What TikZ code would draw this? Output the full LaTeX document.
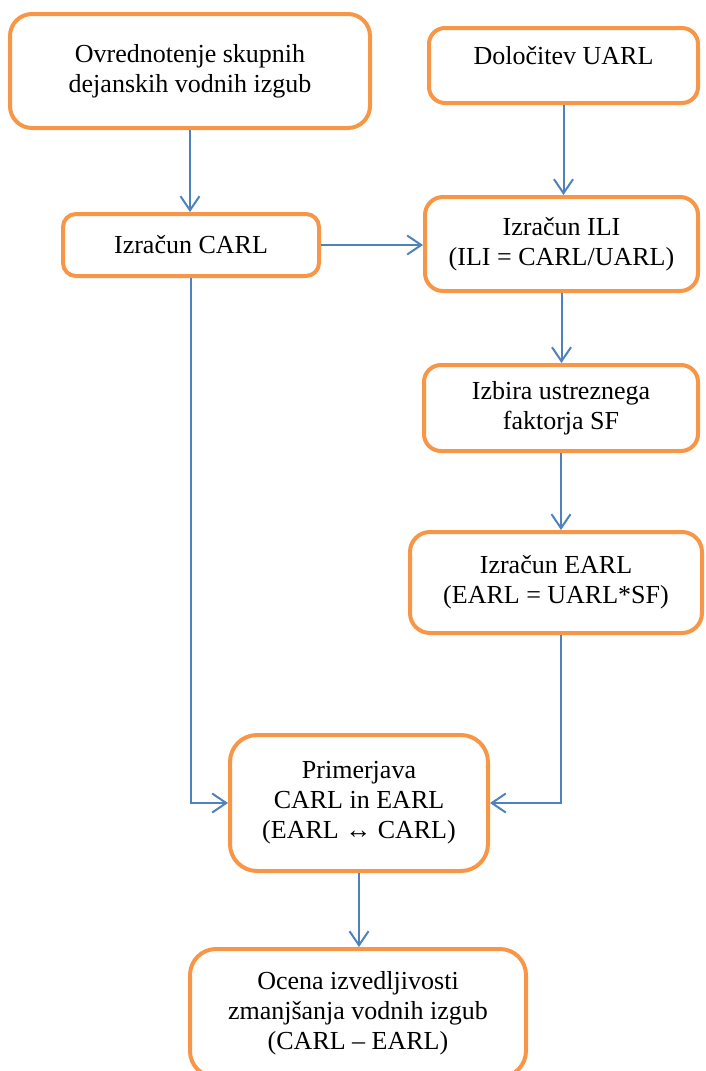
\documentclass[tikz,border=0pt]{standalone}
\usepackage{fontspec}
\setmainfont{Liberation Serif}
\definecolor{orange1}{RGB}{247, 150, 70}
\definecolor{blue1}{RGB}{79, 129, 189}
\usepackage{tikz}
\usetikzlibrary{arrows.meta, positioning, calc}

\begin{document}
\begin{tikzpicture}[x=1pt, y=-1pt,
    stepbox/.style={draw=orange1, line width=4pt, fill=white, align=center, inner sep=0pt,
      font=\fontsize{26}{30}\selectfont},
    flow/.style={draw=blue1, line width=2pt, -{Straight Barb[length=14pt, width=19pt, line width=2pt]}}]
  \useasboundingbox (0,0) rectangle (705,1071);

  % left column
  \node[stepbox, rounded corners=22pt, minimum width=360pt, minimum height=114pt] (ovred) at (190, 71) {Ovrednotenje skupnih\\dejanskih vodnih izgub};
  \node[stepbox, rounded corners=13pt, minimum width=256pt, minimum height=62pt] (carl) at (191, 245) {Izračun CARL};

  % right column
  \node[stepbox, rounded corners=16pt, minimum width=269pt, minimum height=75pt, text depth=20pt] (uarl) at (563.5, 65.5) {Določitev UARL};
  \node[stepbox, rounded corners=18pt, minimum width=273pt, minimum height=94pt] (ili) at (561.5, 244) {Izračun ILI\\(ILI = CARL/UARL)};
  \node[stepbox, rounded corners=17pt, minimum width=274pt, minimum height=86pt] (sf) at (561, 408) {Izbira ustreznega\\faktorja SF};
  \node[stepbox, rounded corners=20pt, minimum width=292pt, minimum height=101pt] (earl) at (556, 582.5) {Izračun EARL\\(EARL = UARL*SF)};

  % bottom
  \node[stepbox, rounded corners=27pt, minimum width=258pt, minimum height=136pt] (primer) at (359, 803) {Primerjava\\CARL in EARL\\(EARL ↔ CARL)};
  \node[stepbox, rounded corners=26pt, minimum width=336pt, minimum height=128pt] (ocena) at (358, 1013) {Ocena izvedljivosti\\zmanjšanja vodnih izgub\\(CARL – EARL)};

  \draw[flow] (ovred.south) -- (ovred.south |- carl.north);
  \draw[flow] (uarl.south) -- (uarl.south |- ili.north);
  \draw[flow] (carl.east) -- (carl.east -| ili.west);
  \draw[flow] (ili.south) -- (ili.south |- sf.north);
  \draw[flow] (sf.south) -- (sf.south |- earl.north);
  \draw[flow] (carl.south) |- (primer.west);
  \draw[flow] (sf.south |- earl.south) |- (primer.east);
  \draw[flow] (primer.south) -- (primer.south |- ocena.north);
\end{tikzpicture}
\end{document}
